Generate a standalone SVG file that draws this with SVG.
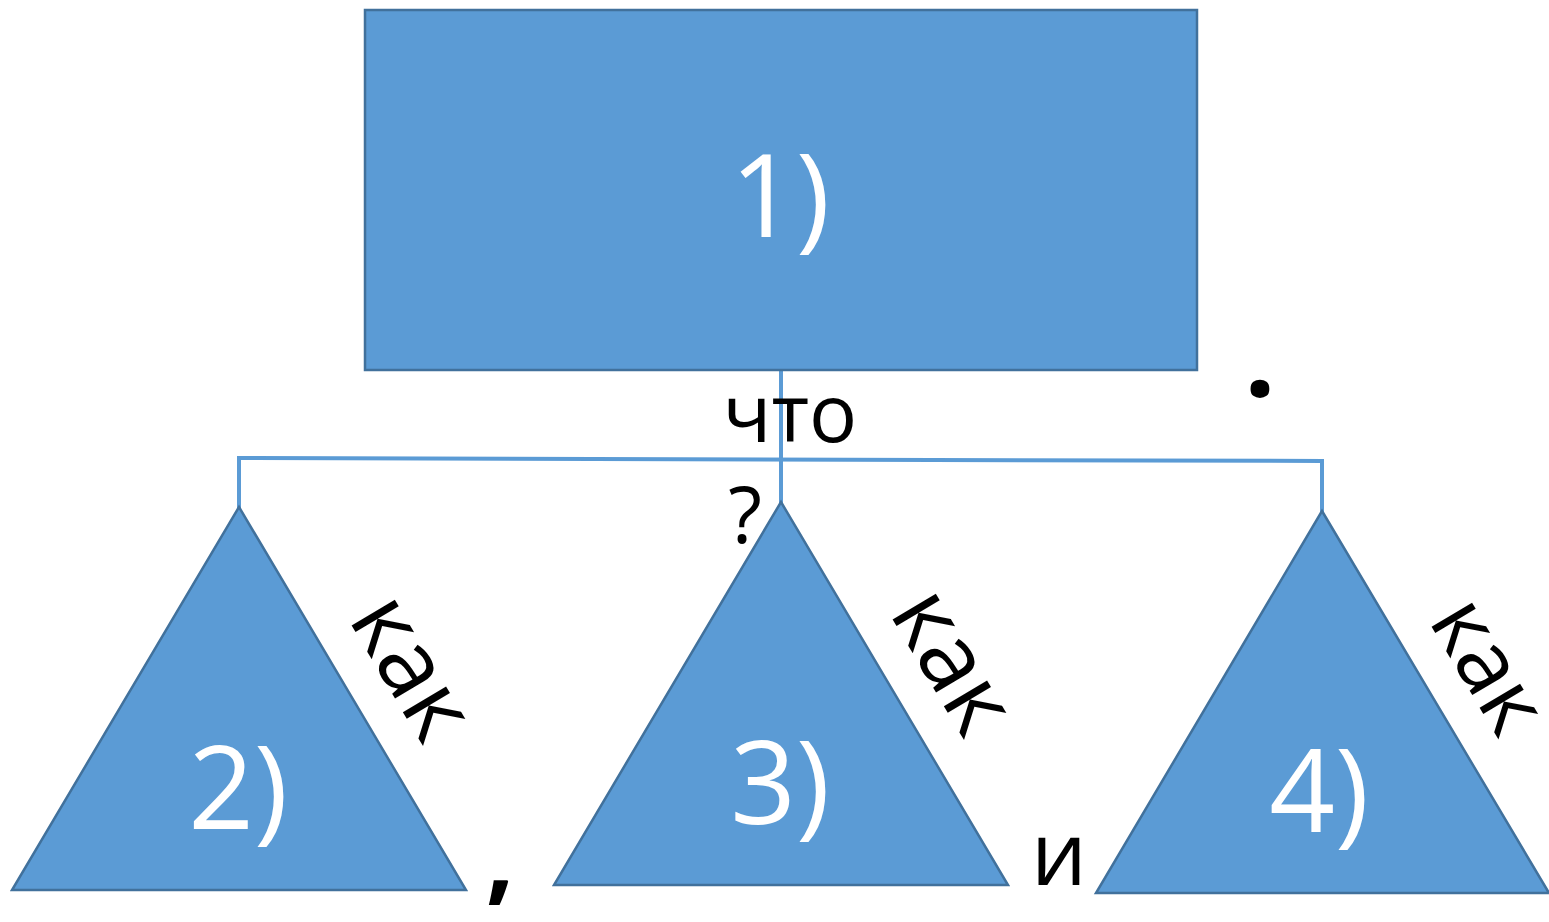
<svg xmlns="http://www.w3.org/2000/svg" width="1549" height="922" viewBox="0 0 1549 922">
<style>
.shape{fill:#5B9BD5;stroke:#41719C;stroke-width:2.5}
.conn{stroke:#5B9BD5;stroke-width:4;fill:none}
.w{fill:#FFFFFF;font-family:"Open Sans","Liberation Sans",sans-serif;text-anchor:middle}
.b{fill:#000000;font-family:"Open Sans","Liberation Sans",sans-serif;text-anchor:middle}
</style>
<rect width="1549" height="922" fill="#FFFFFF"/>
<g id="connectors">
<line class="conn" x1="781" y1="370" x2="781" y2="503"/>
<polyline class="conn" points="239,508 239,458 1322,461 1322,512"/>
</g>
<g id="node1">
<rect class="shape" x="365" y="10" width="832" height="360"/>
<text class="w" x="780" y="237" font-size="115">1)</text>
</g>
<g id="node2">
<polygon class="shape" points="239,507 466,890 12,890"/>
<text class="w" x="238" y="829" font-size="115">2)</text>
</g>
<g id="node3">
<polygon class="shape" points="781,502 1008,885 554,885"/>
<text class="w" x="780" y="824" font-size="115">3)</text>
</g>
<g id="node4">
<polygon class="shape" points="1322,511 1549,893 1096,893"/>
<text class="w" x="1319" y="832" font-size="115">4)</text>
</g>
<g id="labels">
<text class="b" x="790" y="442" font-size="80">что</text>
<text class="b" x="745" y="543" font-size="78">?</text>
<text class="b" x="1260" y="397" font-size="110" font-weight="bold">.</text>
<text class="b" x="500" y="892" font-size="100" font-weight="bold">,</text>
<text class="b" x="1059" y="885" font-size="88">и</text>
<text class="b" font-size="94" transform="translate(407,670) rotate(59.3)" y="25">как</text>
<text class="b" font-size="94" transform="translate(948,664) rotate(59.3)" y="25">как</text>
<text class="b" font-size="88" transform="translate(1484,668) rotate(59.3)" y="24">как</text>
</g>
</svg>
